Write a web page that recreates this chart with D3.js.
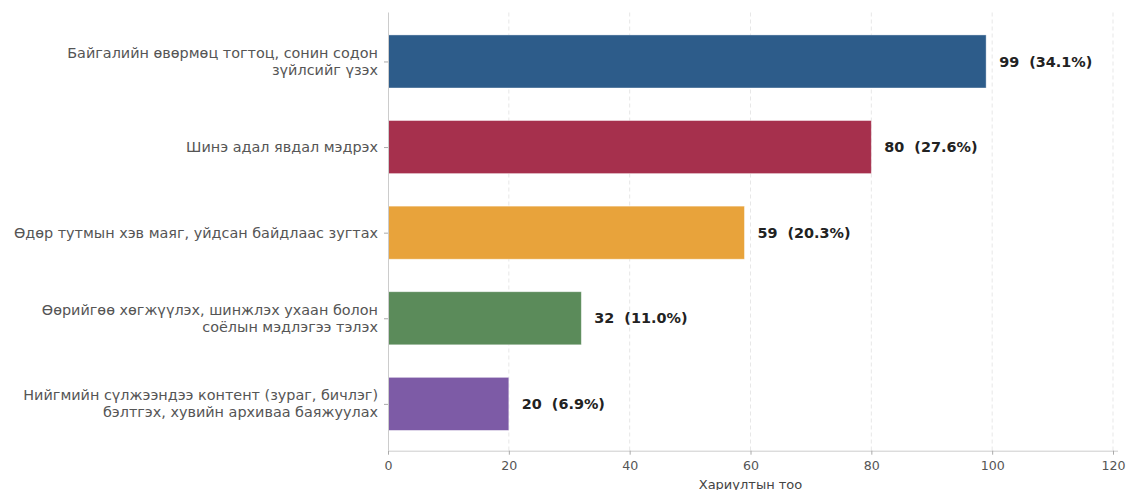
<!DOCTYPE html>
<html>
<head>
<meta charset="utf-8">
<script src="https://cdn.jsdelivr.net/npm/d3@7"></script>
<style>
  html, body { margin: 0; padding: 0; background: #fff; }
  svg { display: block; font-family: "DejaVu Sans", sans-serif; }
</style>
</head>
<body>
<svg id="chart" width="1128" height="490"></svg>
<script>
// Travel motivation responses (count and share)
const categories = [
  ["Байгалийн өвөрмөц тогтоц, сонин содон", "зүйлсийг үзэх"],
  ["Шинэ адал явдал мэдрэх"],
  ["Өдөр тутмын хэв маяг, уйдсан байдлаас зугтах"],
  ["Өөрийгөө хөгжүүлэх, шинжлэх ухаан болон", "соёлын мэдлэгээ тэлэх"],
  ["Нийгмийн сүлжээндээ контент (зураг, бичлэг)", "бэлтгэх, хувийн архиваа баяжуулах"]
];
const counts = [99, 80, 59, 32, 20];
const shares = ["34.1%", "27.6%", "20.3%", "11.0%", "6.9%"];
const colors = ["#2d5c8a", "#a6304d", "#e8a33b", "#5b8b5a", "#7d5ba6"];
const xTicks = [0, 20, 40, 60, 80, 100, 120];
const xTitle = "Хариултын тоо";

const svg = d3.select("#chart");
const plot = { left: 388, right: 1113, top: 12.5, bottom: 450.7 };

const x = d3.scaleLinear().domain([0, 120]).range([plot.left, plot.right]);
const y = d3.scaleLinear().domain([-0.572, 4.547]).range([plot.top, plot.bottom]);
const barH = 0.62;

// vertical dashed grid
svg.append("g").selectAll("line")
  .data(xTicks.filter(d => d > 0))
  .join("line")
  .attr("x1", d => x(d)).attr("x2", d => x(d))
  .attr("y1", plot.top).attr("y2", plot.bottom)
  .attr("stroke", "#e4e4e4").attr("stroke-width", 0.9)
  .attr("stroke-dasharray", "4,3");

// bars
svg.append("g").selectAll("rect")
  .data(counts)
  .join("rect")
  .attr("x", x(0) + 0.5)
  .attr("y", (d, i) => y(i - barH / 2))
  .attr("width", d => x(d) - x(0) - 0.5)
  .attr("height", y(barH) - y(0))
  .attr("fill", (d, i) => colors[i])
  .attr("stroke", "#ffffff").attr("stroke-opacity", 0.5).attr("stroke-width", 0.8);

// value labels
svg.append("g").selectAll("text")
  .data(counts)
  .join("text")
  .attr("x", d => x(d) + 13)
  .attr("y", (d, i) => y(i))
  .attr("dy", "0.35em")
  .attr("font-size", 14.4).attr("font-weight", "bold").attr("fill", "#222")
  .attr("xml:space", "preserve")
  .text((d, i) => `${d}  (${shares[i]})`);

// x axis
const xAxis = d3.axisBottom(x).tickValues(xTicks).tickSize(4).tickPadding(6);
const gx = svg.append("g").attr("transform", `translate(0,${plot.bottom})`).call(xAxis);
gx.select(".domain").attr("stroke", "#cccccc").attr("stroke-width", 1)
  .attr("d", `M${plot.left},0.5H${plot.right + 5}`);
gx.selectAll(".tick line").attr("stroke", "#aaaaaa");
gx.selectAll(".tick text").attr("font-size", 12.6).attr("fill", "#555")
  .attr("font-family", "DejaVu Sans, sans-serif");

// y axis
const yAxis = d3.axisLeft(y).tickValues(d3.range(categories.length)).tickSize(4).tickFormat("");
const gy = svg.append("g").attr("transform", `translate(${plot.left},0)`).call(yAxis);
gy.select(".domain").attr("stroke", "#cccccc").attr("stroke-width", 1)
  .attr("d", `M0.5,${plot.top}V${plot.bottom}`);
gy.selectAll(".tick line").attr("stroke", "#aaaaaa");

// category labels (multi-line, right aligned, vertically centred)
const lineH = 17;
const lab = svg.append("g").selectAll("text")
  .data(categories)
  .join("text")
  .attr("text-anchor", "end")
  .attr("font-size", 14.4).attr("fill", "#555");
lab.each(function (lines, i) {
  const t = d3.select(this);
  const y0 = y(i) - (lines.length - 1) * lineH / 2;
  lines.forEach((s, k) => {
    t.append("tspan")
      .attr("x", 378)
      .attr("y", y0 + k * lineH)
      .attr("dy", "0.35em")
      .text(s);
  });
});

// x axis title
svg.append("text")
  .attr("x", (plot.left + plot.right) / 2)
  .attr("y", 489)
  .attr("text-anchor", "middle")
  .attr("font-size", 13).attr("fill", "#444")
  .text(xTitle);
</script>
</body>
</html>
